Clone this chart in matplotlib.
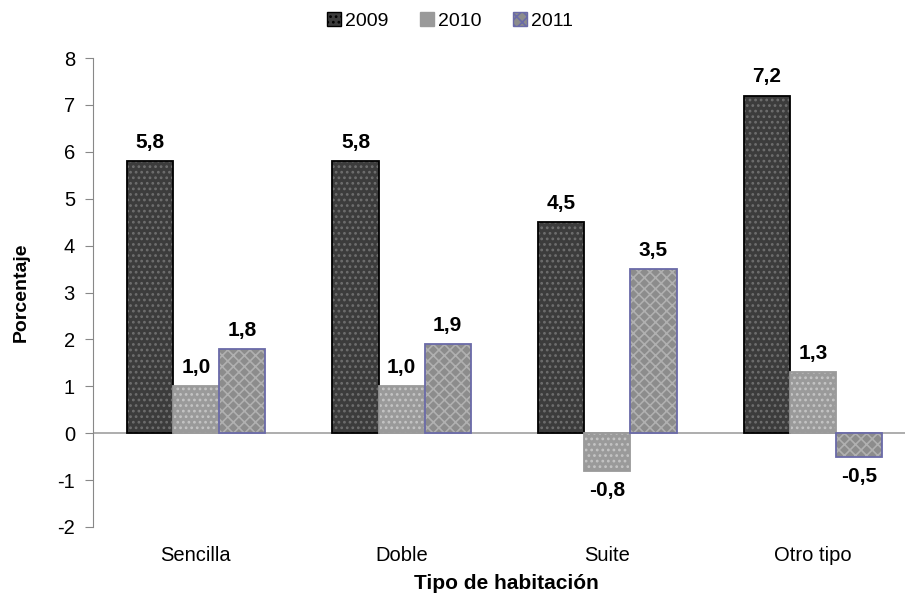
import numpy as np
import matplotlib
matplotlib.use("Agg")
import matplotlib.pyplot as plt
from matplotlib.patches import Patch

plt.rcParams['font.family'] = ['Liberation Sans', 'DejaVu Sans']
plt.rcParams['hatch.linewidth'] = 1.2

# ---- data ----
categories = ["Sencilla", "Doble", "Suite", "Otro tipo"]
years = ["2009", "2010", "2011"]
v2009 = [5.8, 5.8, 4.5, 7.2]
v2010 = [1.0, 1.0, -0.8, 1.3]
v2011 = [1.8, 1.9, 3.5, -0.5]
yticks = [-2, -1, 0, 1, 2, 3, 4, 5, 6, 7, 8]

series = [v2009, v2010, v2011]
# face, hatch colour, hatch, edge
styles = [
    ("#3c3c3c", "#6e6e6e", "...", "#000000"),
    ("#9a9a9a", "#c4c4c4", "...", "#9a9a9a"),
    ("#8c8c8c", "#b0b0b0", "xxx", "#6a6aa8"),
]

W, H = 905, 599
fig = plt.figure(figsize=(W / 100, H / 100), dpi=100)
ax = fig.add_axes([93 / W, 1 - 527 / H, (W - 93) / W, (527 - 58) / H])

x = np.arange(len(categories))
w = 0.224
for i, (vals, (face, hcol, hatch, edge)) in enumerate(zip(series, styles)):
    pos = x + (i - 1) * w
    ax.bar(pos, vals, w, color=face, hatch=hatch, edgecolor=hcol, linewidth=0)
    ax.bar(pos, vals, w, fill=False, edgecolor=edge, linewidth=1.3)
    for px, v in zip(pos, vals):
        lbl = f"{v:.1f}".replace(".", ",")
        if v >= 0:
            ax.text(px, v + 0.28, lbl, ha="center", va="baseline",
                    fontsize=15, fontweight="bold")
        else:
            ax.text(px, v - 0.22, lbl, ha="center", va="top",
                    fontsize=15, fontweight="bold")

ax.axhline(0, color="#a0a0a0", lw=1.2, zorder=0)
ax.set_xlim(-0.5, 3.5 - 11 / 205.7)
ax.set_ylim(-2, 8)
ax.set_yticks(yticks)
ax.set_yticklabels([str(t) for t in yticks], fontsize=14.5)
ax.set_xticks(x)
ax.set_xticklabels(categories, fontsize=14.5)
ax.tick_params(axis="x", length=0, pad=14)
ax.tick_params(axis="y", length=6, color="#888888", direction="out", pad=7)
for s in ["top", "right", "bottom"]:
    ax.spines[s].set_visible(False)
ax.spines["left"].set_color("#888888")

# axis titles placed in figure pixels
fig.text(506 / W, 1 - 574 / H, "Tipo de habitación", ha="center", va="top",
         fontsize=15, fontweight="bold")
fig.text(21 / W, 1 - 292 / H, "Porcentaje", ha="center", va="center",
         rotation=90, fontsize=14, fontweight="bold")

# legend with hatched swatches
handles = [Patch(facecolor=f, edgecolor=e, hatch=h, label=y)
           for (f, hc, h, e), y in zip(styles, years)]
fig.legend(handles=handles, loc="center", bbox_to_anchor=(450 / W, 1 - 21 / H),
           ncol=3, frameon=False, fontsize=14, handlelength=0.75, handleheight=0.75,
           handletextpad=0.2, columnspacing=1.6)

fig.savefig("out.png", dpi=100)
